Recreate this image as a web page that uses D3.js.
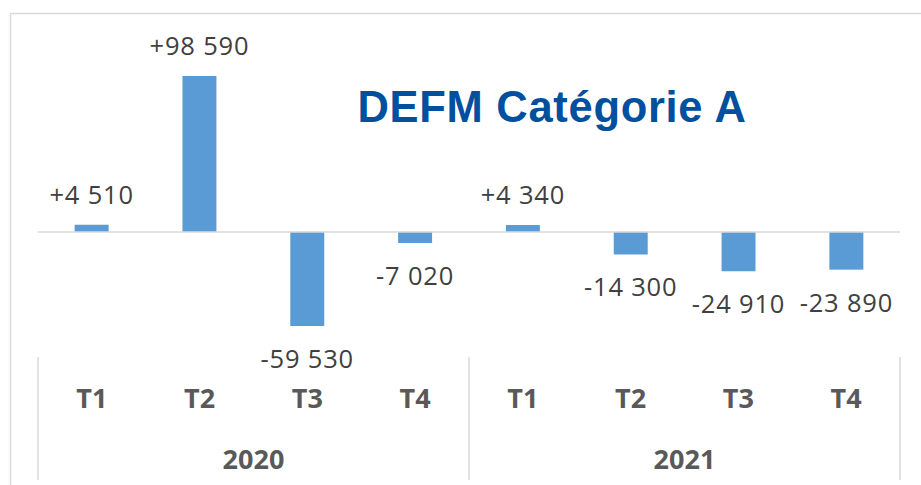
<!DOCTYPE html>
<html>
<head>
<meta charset="utf-8">
<script src="https://cdn.jsdelivr.net/npm/d3@7"></script>
<style>
  html, body { margin: 0; padding: 0; background: #fff; }
  svg { display: block; }
</style>
</head>
<body>
<svg id="chart" width="921" height="485"></svg>
<script>
// Quarterly change in DEFM category A job seekers
const years = ["2020", "2021"];
const quarters = ["T1", "T2", "T3", "T4"];
const categories = ["2020-T1", "2020-T2", "2020-T3", "2020-T4", "2021-T1", "2021-T2", "2021-T3", "2021-T4"];
const values = [4510, 98590, -59530, -7020, 4340, -14300, -24910, -23890];
const labels = ["+4 510", "+98 590", "-59 530", "-7 020", "+4 340", "-14 300", "-24 910", "-23 890"];

const svg = d3.select("#chart");
const W = 921, H = 485;

// Chart frame
svg.append("rect")
  .attr("x", 10.5).attr("y", 13.5)
  .attr("width", W + 20).attr("height", H + 20)
  .attr("fill", "none").attr("stroke", "#d9d9d9").attr("stroke-width", 1.5);

const left = 38, right = 900;
const x = d3.scaleBand().domain(categories).range([left, right]).paddingInner(0.685).paddingOuter(0.34);
const y = d3.scaleLinear().domain([-59530, 98590]).range([326, 76]);

// Bars
svg.append("g").selectAll("rect")
  .data(values)
  .join("rect")
  .attr("x", (d, i) => x(categories[i]))
  .attr("width", x.bandwidth())
  .attr("y", d => Math.min(y(d), y(0)))
  .attr("height", d => Math.abs(y(d) - y(0)))
  .attr("fill", "#5b9bd5");

// Zero baseline
svg.append("line")
  .attr("x1", left).attr("x2", right)
  .attr("y1", y(0)).attr("y2", y(0))
  .attr("stroke", "#d9d9d9").attr("stroke-width", 1.5);

// Value labels
svg.append("g").selectAll("text")
  .data(values)
  .join("text")
  .attr("x", (d, i) => x(categories[i]) + x.bandwidth() / 2)
  .attr("y", d => d >= 0 ? y(d) - 21 : y(d) + 42)
  .attr("text-anchor", "middle")
  .attr("font-family", "'Open Sans', sans-serif")
  .attr("font-size", 25.5)
  .attr("letter-spacing", 0.8)
  .attr("fill", "#404040")
  .text((d, i) => labels[i]);

// Category axis: quarters
const qx = d3.scaleBand().domain(categories).range([left, right]);
svg.append("g").selectAll("text")
  .data(categories)
  .join("text")
  .attr("x", d => qx(d) + qx.bandwidth() / 2)
  .attr("y", 408)
  .attr("text-anchor", "middle")
  .attr("font-family", "'Open Sans', sans-serif")
  .attr("font-weight", "bold")
  .attr("font-size", 27)
  .attr("fill", "#595959")
  .text(d => d.split("-")[1]);

// Category axis: years
const yx = d3.scaleBand().domain(years).range([left, right]);
svg.append("g").selectAll("text")
  .data(years)
  .join("text")
  .attr("x", d => yx(d) + yx.bandwidth() / 2)
  .attr("y", 469)
  .attr("text-anchor", "middle")
  .attr("font-family", "'Open Sans', sans-serif")
  .attr("font-weight", "bold")
  .attr("font-size", 27)
  .attr("fill", "#595959")
  .text(d => d);

// Group separators
const seps = [left, yx("2021"), right];
svg.append("g").selectAll("line")
  .data(seps)
  .join("line")
  .attr("x1", d => d).attr("x2", d => d)
  .attr("y1", 357).attr("y2", 480)
  .attr("stroke", "#d9d9d9").attr("stroke-width", 1.5);

// Title
svg.append("text")
  .attr("x", 552).attr("y", 122)
  .attr("text-anchor", "middle")
  .attr("font-family", "'Liberation Sans', Arial, sans-serif")
  .attr("font-weight", "bold")
  .attr("font-size", 43.5)
  .attr("letter-spacing", 0.7)
  .attr("fill", "#0050a0")
  .text("DEFM Catégorie A");
</script>
</body>
</html>
